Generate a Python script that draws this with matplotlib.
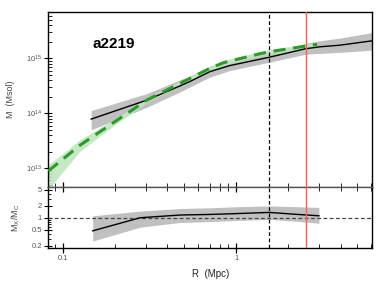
import numpy as np
import matplotlib
matplotlib.use('Agg')
from matplotlib import pyplot as plt
from matplotlib.ticker import LogLocator, FixedLocator, NullFormatter

plt.rcParams['font.family'] = ['Liberation Sans', 'DejaVu Sans']
plt.rcParams['mathtext.fontset'] = 'custom'
plt.rcParams['mathtext.rm'] = 'Liberation Sans'
plt.rcParams['mathtext.it'] = 'Liberation Sans:italic'

#%% data (log10 of mass in Msol)

r_black = [0.145, 0.304, 0.473, 0.54, 0.705, 0.92, 1.55, 2.51, 3.03, 3.97, 6.1]
m_black = [13.895, 14.24, 14.50, 14.58, 14.76, 14.87, 15.02, 15.175, 15.21, 15.24, 15.32]
m_black_hi = [14.05, 14.36, 14.61, 14.68, 14.86, 14.96, 15.11, 15.275, 15.32, 15.37, 15.47]
m_black_lo = [13.70, 14.11, 14.39, 14.48, 14.66, 14.78, 14.93, 15.075, 15.09, 15.11, 15.15]

r_green = [0.082, 0.125, 0.195, 0.304, 0.473, 0.705, 0.84, 1.31, 1.55, 2.93]
m_green = [12.95, 13.42, 13.83, 14.24, 14.545, 14.82, 14.92, 15.07, 15.12, 15.255]
m_green_hi = [13.06, 13.52, 13.88, 14.28, 14.58, 14.86, 14.96, 15.11, 15.16, 15.29]
m_green_lo = [12.62, 13.31, 13.77, 14.20, 14.51, 14.78, 14.88, 15.03, 15.08, 15.22]

r_ratio = [0.148, 0.278, 0.473, 0.705, 1.05, 1.55, 2.2, 3.0]
ratio = [0.47, 1.0, 1.17, 1.21, 1.28, 1.36, 1.22, 1.12]
ratio_hi = [1.12, 1.47, 1.7, 1.78, 1.9, 1.98, 1.9, 1.81]
ratio_lo = [0.26, 0.58, 0.76, 0.80, 0.86, 0.91, 0.82, 0.73]

r_dashed = 1.55
r_red = 2.51
cluster = 'a2219'

#%%

fig = plt.figure(figsize=(3.85, 2.89), dpi=100)
ax_top = fig.add_axes([0.1255, 0.354, 0.8415, 0.603])
ax_bot = fig.add_axes([0.1255, 0.141, 0.8415, 0.213], sharex=ax_top)

ax_top.fill_between(r_black, 10**np.array(m_black_lo), 10**np.array(m_black_hi),
                    color='#c0c0c0', lw=0, zorder=1)
ax_top.fill_between(r_green, 10**np.array(m_green_lo), 10**np.array(m_green_hi),
                    color='#bfe6bf', lw=0, zorder=2, alpha=0.9)
ax_top.plot(r_black, 10**np.array(m_black), color='k', lw=1.0, zorder=3)
ax_top.plot(r_green, 10**np.array(m_green), color='#2b9a2b', lw=2.2,
            dashes=(4, 2.5), zorder=4)

ax_bot.fill_between(r_ratio, ratio_lo, ratio_hi, color='#c0c0c0', lw=0, zorder=1)
ax_bot.plot(r_ratio, ratio, color='k', lw=1.0, zorder=3)
ax_bot.axhline(1.0, color='#444444', lw=0.9, dashes=(3, 2), zorder=2)

for ax in (ax_top, ax_bot):
    ax.axvline(r_dashed, color='k', lw=0.9, dashes=(3, 2), zorder=5)
    ax.axvline(r_red, color='#ff5a5a', lw=1.0, zorder=5)
    ax.set_xscale('log')
    ax.set_yscale('log')
    for s in ax.spines.values():
        s.set_linewidth(1.0)

ax_top.set_xlim(0.082, 6.1)
ax_top.set_ylim(10**12.665, 10**15.836)
ax_bot.set_ylim(0.172, 6.0)

ax_top.spines['bottom'].set_color('#555555')
ax_bot.spines['top'].set_color('#555555')

# ticks
ax_top.yaxis.set_major_locator(FixedLocator([1e13, 1e14, 1e15]))
ax_top.set_yticklabels([r'$10^{13}$', r'$10^{14}$', r'$10^{15}$'])
ax_top.yaxis.set_minor_locator(LogLocator(base=10, subs=np.arange(2, 10)))
ax_top.yaxis.set_minor_formatter(NullFormatter())
ax_top.tick_params(axis='y', which='major', direction='inout', length=6, width=0.8,
                   labelsize=5.5, labelcolor='#555555', pad=1.5)
ax_top.tick_params(axis='y', which='minor', direction='in', length=3, width=0.6)
ax_top.tick_params(axis='x', which='both', direction='in', bottom=True, top=False,
                   labelbottom=False, length=3, width=0.6)

ax_bot.yaxis.set_major_locator(FixedLocator([0.2, 0.5, 1, 2, 5]))
ax_bot.set_yticklabels(['0.2', '0.5', '1', '2', '5'])
ax_bot.yaxis.set_minor_locator(LogLocator(base=10, subs=np.arange(2, 10)))
ax_bot.yaxis.set_minor_formatter(NullFormatter())
ax_bot.tick_params(axis='y', which='major', direction='inout', length=6, width=0.8,
                   labelsize=5.5, labelcolor='#555555', pad=1.5)
ax_bot.tick_params(axis='y', which='minor', direction='in', length=2, width=0.6)

ax_bot.xaxis.set_major_locator(FixedLocator([0.1, 1]))
ax_bot.set_xticklabels(['0.1', '1'])
ax_bot.xaxis.set_minor_locator(LogLocator(base=10, subs=np.arange(2, 10)))
ax_bot.xaxis.set_minor_formatter(NullFormatter())
ax_bot.tick_params(axis='x', which='major', direction='inout', length=7, width=0.9,
                   labelsize=5.5, labelcolor='#555555', top=True, pad=1.5)
ax_bot.tick_params(axis='x', which='minor', direction='in', length=3, width=0.6, top=True)

ax_top.set_ylabel('M  (Msol)', fontsize=6.5, color='#444444')
ax_top.yaxis.set_label_coords(-0.103, 0.5)
ax_bot.set_ylabel(r'M$_{\rm X}$/M$_{\rm C}$', fontsize=6.5, color='#444444')
ax_bot.yaxis.set_label_coords(-0.081, 0.5)
ax_bot.set_xlabel('R  (Mpc)', fontsize=7, color='#222222', labelpad=5)

ax_top.text(0.137, 0.797, cluster, transform=ax_top.transAxes, fontsize=11,
            fontweight='bold', color='k')

plt.savefig('out.png', dpi=100)
